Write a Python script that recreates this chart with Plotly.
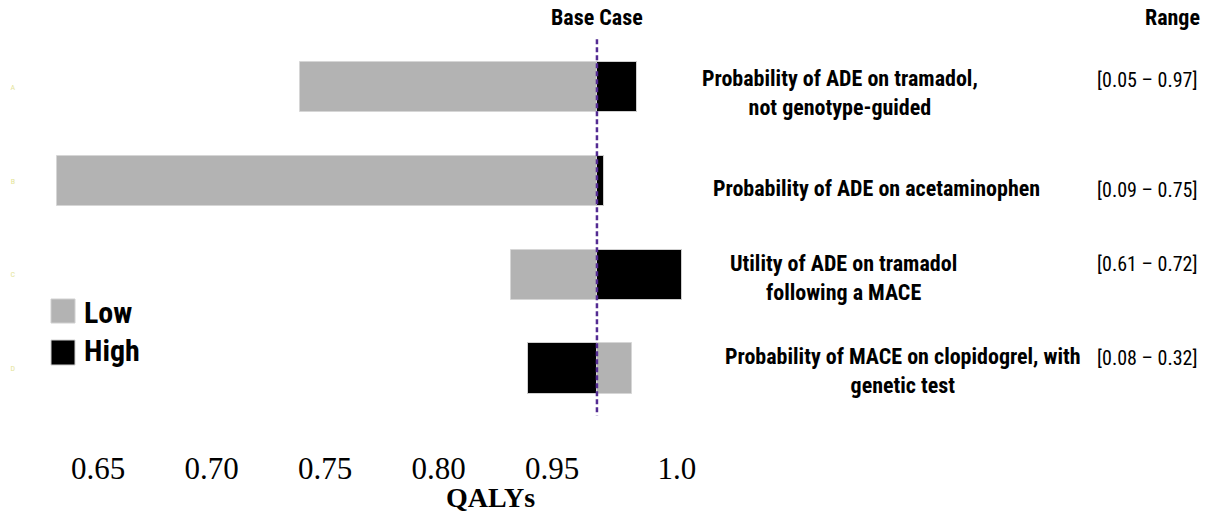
import numpy as np
import plotly.graph_objects as go

# ---- data -------------------------------------------------------------
params = [
    "Probability of ADE on tramadol,<br>not genotype-guided",
    "Probability of ADE on acetaminophen",
    "Utility of ADE on tramadol<br>following a MACE",
    "Probability of MACE on clopidogrel, with<br>genetic test",
]
param_codes = ["A", "B", "C", "D"]
param_ranges = ["[0.05 – 0.97]", "[0.09 – 0.75]", "[0.61 – 0.72]", "[0.08 – 0.32]"]
qaly_low = [0.739, 0.632, 0.896, 0.982]    # QALYs at the low end of each range
qaly_high = [0.984, 0.971, 1.002, 0.918]   # QALYs at the high end of each range
qaly_base = 0.968
tick_labels = ["0.65", "0.70", "0.75", "0.80", "0.95", "1.0"]

# ---- broken QALY axis: ticks are spaced evenly, values are not ----------
TICK_VALUES = np.array([float(t) for t in tick_labels])
TICK_POS = np.array([0, 1, 2, 3, 4, 5.1])


def to_axis(q):
    q = np.asarray(q, dtype=float)
    u = np.interp(q, TICK_VALUES, TICK_POS)
    lo_slope = (TICK_POS[1] - TICK_POS[0]) / (TICK_VALUES[1] - TICK_VALUES[0])
    hi_slope = (TICK_POS[-1] - TICK_POS[-2]) / (TICK_VALUES[-1] - TICK_VALUES[-2])
    u = np.where(q < TICK_VALUES[0], TICK_POS[0] + (q - TICK_VALUES[0]) * lo_slope, u)
    u = np.where(q > TICK_VALUES[-1], TICK_POS[-1] + (q - TICK_VALUES[-1]) * hi_slope, u)
    return u


# ---- page geometry ------------------------------------------------------
W, H = 1225, 516
ML, MR, MT, MB = 20, 0, 0, 76
PLOT_W, PLOT_H = W - ML - MR, H - MT - MB


def px(x):
    return (x - ML) / PLOT_W


def py(y):
    return 1 - (y - MT) / PLOT_H


SANS = "Liberation Sans Narrow, Roboto Condensed, Arial Narrow, Lato, sans-serif"
SERIF = "Liberation Serif, Times New Roman, serif"
GREY = "#b3b3b3"

rows = np.arange(len(params))
base_u = float(to_axis(qaly_base))
low_u = to_axis(qaly_low)
high_u = to_axis(qaly_high)

fig = go.Figure()
fig.add_trace(go.Bar(
    y=rows, x=low_u - base_u, base=base_u, orientation="h", width=0.535,
    marker=dict(color=GREY, line=dict(color="#d6d6d6", width=1)),
    name="Low", showlegend=False, hoverinfo="skip",
))
fig.add_trace(go.Bar(
    y=rows, x=high_u - base_u, base=base_u, orientation="h", width=0.535,
    marker=dict(color="#000000", line=dict(color="#cfcfcf", width=1)),
    name="High", showlegend=False, hoverinfo="skip",
))

# base case reference line
fig.add_shape(type="line", xref="x", yref="y", x0=base_u, x1=base_u,
              y0=-0.51, y1=3.5,
              line=dict(color="#532b92", width=2.5, dash="5px,3px"))

ann = []
ann.append(dict(text="<b>Base Case</b>", x=px(597), y=py(18), xref="paper", yref="paper",
                showarrow=False, xanchor="center", yanchor="middle",
                font=dict(family=SANS, size=22, color="#000")))
ann.append(dict(text="<b>Range</b>", x=px(1172), y=py(18), xref="paper", yref="paper",
                showarrow=False, xanchor="center", yanchor="middle",
                font=dict(family=SANS, size=22, color="#000")))

label_centres = [(840, 93), (876, 188), (843, 278), (903, 371)]
range_centres = [(1147, 80), (1147, 190), (1147, 264), (1147, 358)]
for name, rng, (lx, ly), (rx, ry) in zip(params, param_ranges, label_centres, range_centres):
    ann.append(dict(text=f"<b>{name}</b>", x=px(lx), y=py(ly), xref="paper", yref="paper",
                    showarrow=False, xanchor="center", yanchor="middle", align="center",
                    font=dict(family=SANS, size=22, color="#000")))
    ann.append(dict(text=rng, x=px(rx), y=py(ry), xref="paper", yref="paper",
                    showarrow=False, xanchor="center", yanchor="middle",
                    font=dict(family=SANS, size=20, color="#000")))

# axis title
ann.append(dict(text="<b>QALYs</b>", x=px(490), y=py(497), xref="paper", yref="paper",
                showarrow=False, xanchor="center", yanchor="middle",
                font=dict(family=SERIF, size=28, color="#000")))

# legend
legend_items = [("Low", GREY, 299, 323, 312), ("High", "#000000", 340, 365, 350)]
for text, colour, y0, y1, ty in legend_items:
    fig.add_shape(type="rect", xref="paper", yref="paper",
                  x0=px(51), x1=px(75), y0=py(y1), y1=py(y0),
                  fillcolor=colour, line=dict(color="#d0d0d0", width=1))
    ann.append(dict(text=f"<b>{text}</b>", x=px(82), y=py(ty), xref="paper", yref="paper",
                    showarrow=False, xanchor="left", yanchor="middle",
                    font=dict(family=SANS, size=30, color="#000")))

fig.update_layout(
    width=W, height=H,
    margin=dict(l=ML, r=MR, t=MT, b=MB, pad=0),
    paper_bgcolor="white", plot_bgcolor="white",
    barmode="overlay", bargap=0,
    annotations=ann,
    xaxis=dict(
        range=[(ML - 98) / 113.5, (W - MR - 98) / 113.5],
        tickvals=TICK_POS, ticktext=tick_labels,
        tickfont=dict(family=SERIF, size=31, color="#000"),
        showgrid=False, zeroline=False, showline=False, ticks="",
        ticklabelstandoff=7,
    ),
    yaxis=dict(
        range=[3.762, -0.927],
        tickvals=rows, ticktext=param_codes,
        tickfont=dict(family=SANS, size=8, color="#e4e49a"),
        showgrid=False, zeroline=False, showline=False, ticks="",
        ticklabelstandoff=4,
    ),
)

fig.write_html("out.html")
